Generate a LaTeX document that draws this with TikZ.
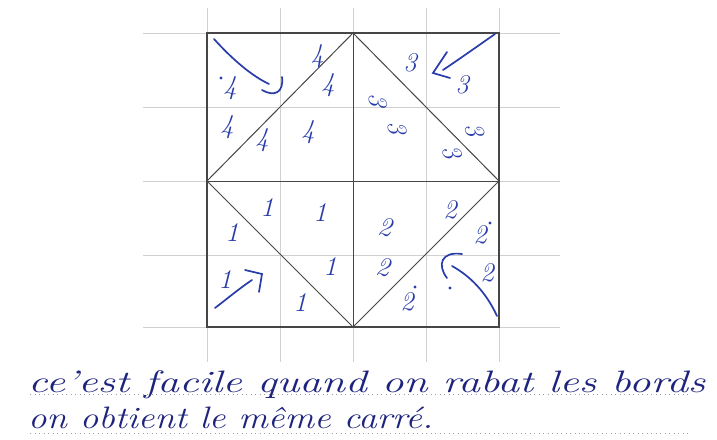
\documentclass[tikz,border=0pt]{standalone}
\definecolor{ink}{RGB}{40,60,170}
\definecolor{pen}{RGB}{30,35,125}
\definecolor{gridgray}{RGB}{208,208,208}
\definecolor{edge}{RGB}{70,70,70}
\begin{document}
\begin{tikzpicture}[x=1pt,y=-1pt,
  digit/.style={text=ink,font=\itshape\fontsize{27}{27}\selectfont,inner sep=0pt},
  stroke/.style={draw=ink,line width=1.7pt,line cap=round},
  writing/.style={text=pen,font=\itshape\fontsize{31}{31}\selectfont,anchor=base west,inner sep=0pt},
  rule/.style={draw=gray!75,line width=0.9pt,dash pattern=on 0.9pt off 3.6pt}]
  \useasboundingbox[fill=white] (0,0) rectangle (717,439);

  % squared paper
  \foreach \x in {207,280,353,426,499}
    \draw[gridgray,line width=0.8pt] (\x,8) -- (\x,362);
  \foreach \y in {33,107,181,255,327}
    \draw[gridgray,line width=0.8pt] (143,\y) -- (560,\y);

  % the square and its folds
  \coordinate (tl) at (207,33);
  \coordinate (br) at (499,327);
  \coordinate (tm) at (353,33);
  \coordinate (bm) at (353,327);
  \coordinate (ml) at (207,181);
  \coordinate (mr) at (499,181);
  \draw[edge,line width=1.2pt] (tl) rectangle (br);
  \draw[edge,line width=1pt] (ml) -- (tm) -- (mr) -- (bm) -- cycle;
  \draw[edge,line width=1pt] (tm) -- (bm) (ml) -- (mr);

  % numbers
  \foreach \p/\r [count=\i] in {{230,88}/0,{317,57}/5,{328,85}/0,{227,127}/0,{262,140}/0,{308,132}/0}
    \node[digit,rotate=\r] (four\i) at (\p) {4};
  \foreach \p/\r [count=\i] in {{410,63}/0,{462,85}/0,{378,100}/-90,{397,128}/-80,{475,130}/-75,{452,152}/-70}
    \node[digit,rotate=\r] (three\i) at (\p) {3};
  \foreach \p/\r [count=\i] in {{450,210}/0,{385,227}/-10,{480,235}/0,{383,267}/-10,{407,302}/0,{487,273}/0}
    \node[digit,rotate=\r] (two\i) at (\p) {2};
  \foreach \p/\r [count=\i] in {{267,208}/0,{320,213}/0,{232,233}/0,{330,267}/0,{225,280}/0,{300,303}/0}
    \node[digit,rotate=\r] (one\i) at (\p) {1};
  \foreach \p in {{221,78},{490,223},{415,287},{450,288}}
    \fill[ink] (\p) circle (1.6pt);

  % folding arrows
  \draw[stroke] (214,39) .. controls (233,60) and (252,76) .. (269,84);
  \draw[stroke] (262,90) .. controls (274,97) and (284,93) .. (282,77);
  \draw[stroke] (495,34) .. controls (475,48) and (458,60) .. (443,70);
  \draw[stroke] (447,52) -- (433,73) -- (450,78);
  \draw[stroke] (215,308) .. controls (228,298) and (240,288) .. (252,280);
  \draw[stroke] (245,270) -- (262,274) -- (259,292);
  \draw[stroke] (497,316) .. controls (486,292) and (470,276) .. (452,266);
  \draw[stroke] (462,254) .. controls (441,251) and (437,265) .. (447,278);

  % the answer
  \draw[rule] (30,394) -- (688,394);
  \draw[rule] (30,433) -- (688,433);
  \node[writing] (line1) at (28,392) {\scalebox{1.4}[1]{ce'est facile quand on rabat les bords}};
  \node[writing] (line2) at (28,428) {\scalebox{1.19}[1]{on obtient le même carré.}};
\end{tikzpicture}
\end{document}
